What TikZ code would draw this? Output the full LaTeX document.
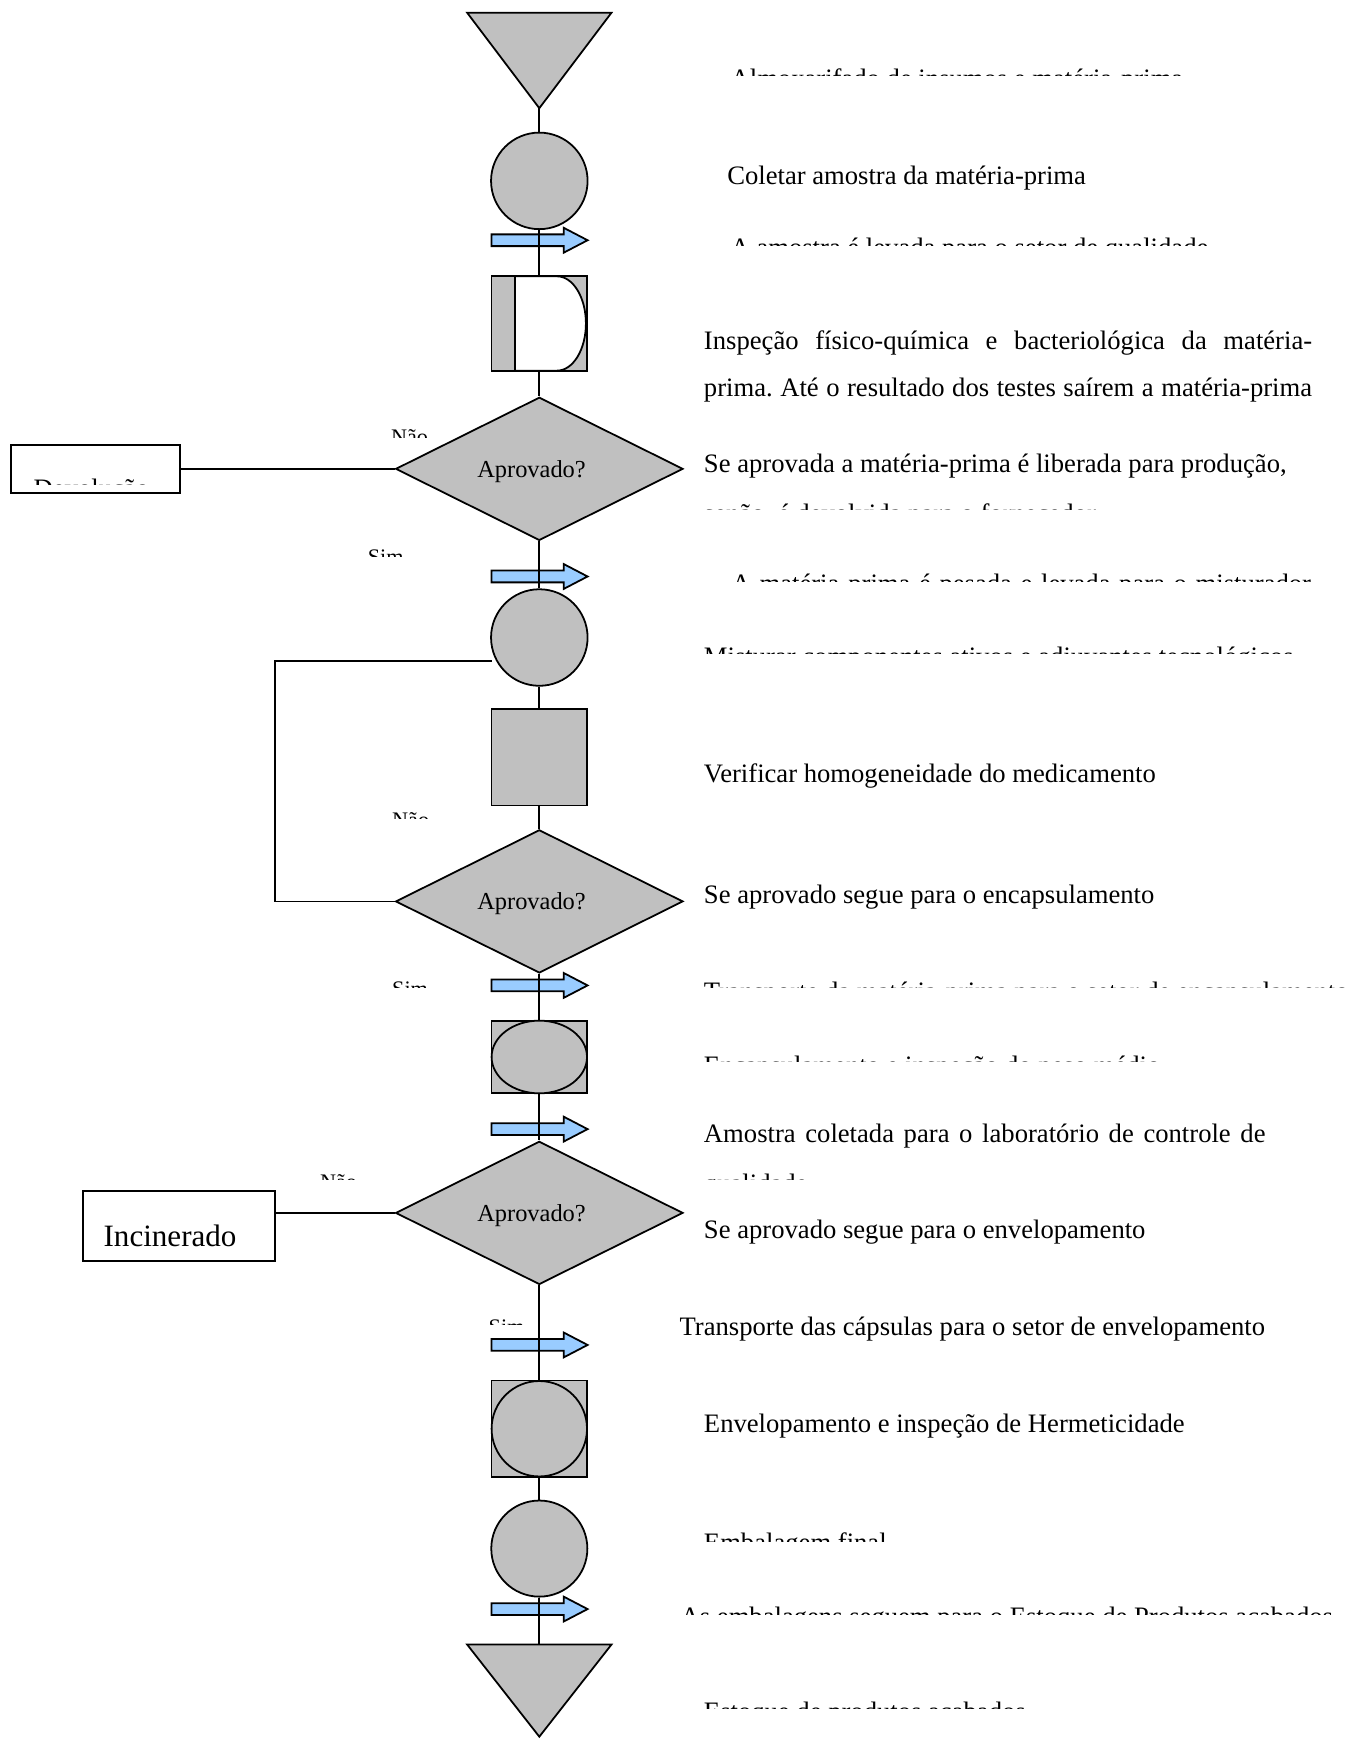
\documentclass[tikz,border=0pt]{standalone}
\usepackage{fontspec}
\setmainfont{Liberation Serif}
\frenchspacing
\usetikzlibrary{positioning, shapes.geometric}

\definecolor{silver}{HTML}{C0C0C0}
\definecolor{skyarrow}{HTML}{99CCFF}

\tikzset{
  proc/.style={draw, fill=silver, line width=0.8pt, inner sep=0pt},
  decis/.style={diamond, draw, fill=silver, line width=0.8pt, aspect=2,
    minimum width=129.5pt, minimum height=64.5pt, inner sep=0pt},
  outbox/.style={draw, fill=white, line width=0.8pt, inner sep=0pt},
  conn/.style={line width=0.8pt},
  txt/.style={anchor=base west, inner sep=0pt, font=\fontsize{12}{14}\selectfont},
  tag/.style={anchor=base west, inner sep=0pt, font=\fontsize{10}{12}\selectfont},
  pics/mover/.style={code={
    \draw[line width=0.8pt, fill=skyarrow] (-43,-5.3) -- (22,-5.3) -- (22,-11.2)
      -- (43.5,0) -- (22,11.2) -- (22,5.3) -- (-43,5.3) -- cycle;}}
}

\begin{document}
\begin{tikzpicture}[x=0.5pt, y=-0.5pt]
\useasboundingbox (0,0) rectangle (1228,1568);

% transport arrows (under the main line)
\pic at (486,216.5) {mover};
\pic at (486,519.5) {mover};
\pic at (486,888) {mover};
\pic at (486,1017.5) {mover};
\pic at (486,1212) {mover};
\pic at (486,1450) {mover};

% storage of raw material
\draw[proc] (421,11.5) -- (551,11.5) -- (486,97.5) -- cycle;
\coordinate (almox) at (486,97.5);

\node[proc, circle, minimum size=43.5pt] (colet) at (486,163) {};

% inspection with waiting
\node[proc, minimum width=43pt, minimum height=42.5pt] (quar) at (486,291.5) {};
\draw[conn, fill=white] (464,249) -- (502,249)
  arc[start angle=90, end angle=-90, x radius=13pt, y radius=21.25pt] -- (464,334) -- cycle;

\node[decis] (ap1) at (486,422.5) {};
\node[outbox, minimum width=76pt, minimum height=21.5pt] (devol) at (86,422.5) {};

\node[proc, circle, minimum size=43.5pt] (mix) at (486,574.5) {};
\node[proc, minimum width=43pt, minimum height=43.4pt] (homog) at (486,682.4) {};
\node[decis] (ap2) at (486,812.3) {};

% encapsulation
\node[proc, minimum width=43pt, minimum height=32.75pt] (encap) at (486,952.5) {};
\node[proc, ellipse, minimum width=43pt, minimum height=32.75pt] at (486,952.5) {};

\node[decis] (ap3) at (486,1093) {};
\node[outbox, minimum width=86.5pt, minimum height=31.8pt] (incin) at (161.5,1104.8) {};
\node[anchor=base west, inner sep=0pt, font=\fontsize{14}{16}\selectfont] (incintxt) at (93,1123) {Incinerado};

% question in each decision
\foreach \d in {ap1, ap2, ap3}
  \node[font=\fontsize{11}{13}\selectfont, inner sep=0pt, xshift=-3.5pt, yshift=-1.2pt] at (\d.center) {Aprovado?};

% envelope
\node[proc, minimum width=43pt, minimum height=43.5pt] (envel) at (486,1287.5) {};
\node[proc, circle, minimum size=43pt] at (486,1287.5) {};

\node[proc, circle, minimum size=43.3pt] (emb) at (486,1395.5) {};

% finished goods
\draw[proc] (421,1482) -- (551,1482) -- (486,1565) -- cycle;
\coordinate (estoq) at (486,1482);

% main line
\draw[conn] (almox) -- (colet.north);
\draw[conn] (colet.south) -- (quar.north);
\draw[conn] (quar.south) -- (ap1.north);
\draw[conn] (ap1.south) -- (mix.north);
\draw[conn] (ap1.west) -- (devol.east);
\draw[conn] (mix.south) -- (homog.north);
\draw[conn] (homog.south) -- (ap2.north);
\coordinate (loopin) at (443,596);
\draw[conn] (ap2.west) -| (248,596) -- (loopin);
\draw[conn] (ap2.south) -- (encap.north);
\draw[conn] (encap.south) -- (ap3.north);
\draw[conn] (ap3.west) -- (ap3.west -| incin.east);
\draw[conn] (ap3.south) -- (envel.north);
\draw[conn] (envel.south) -- (emb.north);
\draw[conn] (emb.south) -- (estoq);

% descriptions
\begin{scope} \clip (640,40) rectangle (1228,68.2);
\node[txt] (t1) at (658,79) {Almoxarifado de insumos e matéria-prima}; \end{scope}
\node[txt] (t2) at (655,166) {Coletar amostra da matéria-prima};
\begin{scope} \clip (640,195) rectangle (1228,221);
\node[txt] (t3) at (658,231.5) {A amostra é levada para o setor de qualidade}; \end{scope}
\node[txt] (t4) at (634,315) {\makebox[274pt][s]{Inspeção físico-química e bacteriológica da matéria-}};
\node[txt] (t5) at (634,357) {\makebox[274pt][s]{prima. Até o resultado dos testes saírem a matéria-prima}};
\node[txt] (t6) at (634,426) {Se aprovada a matéria-prima é liberada para produção,};
\begin{scope} \clip (620,435) rectangle (1228,459.5);
\node[txt] (t7) at (634,470.5) {senão, é devolvida para o fornecedor}; \end{scope}
\begin{scope} \clip (640,498) rectangle (1228,524);
\node[txt] (t8) at (659,533.5) {\makebox[261pt][s]{A matéria-prima é pesada e levada para o misturador}}; \end{scope}
\begin{scope} \clip (620,565) rectangle (1228,588.6);
\node[txt] (t9) at (634,600) {Misturar componentes ativos e adjuvantes tecnológicos}; \end{scope}
\node[txt] (t10) at (634,705) {Verificar homogeneidade do medicamento};
\node[txt] (t11) at (634,814) {Se aprovado segue para o encapsulamento};
\begin{scope} \clip (620,866) rectangle (1228,890.3);
\node[txt] (t12) at (634,901.7) {Transporte da matéria-prima para o setor de encapsulamento}; \end{scope}
\begin{scope} \clip (620,932) rectangle (1228,956.4);
\node[txt] (t13) at (634,968) {Encapsulamento e inspeção do peso médio}; \end{scope}
\node[txt] (t14) at (634,1029.5) {\makebox[253pt][s]{Amostra coletada para o laboratório de controle de}};
\begin{scope} \clip (620,1040) rectangle (1228,1063);
\node[txt] (t15) at (634,1074.4) {qualidade}; \end{scope}
\node[txt] (t16) at (634,1116) {Se aprovado segue para o envelopamento};
\node[txt] (t17) at (612,1203.5) {Transporte das cápsulas para o setor de envelopamento};
\node[txt] (t18) at (634,1290.7) {Envelopamento e inspeção de Hermeticidade};
\begin{scope} \clip (620,1363) rectangle (1228,1389);
\node[txt] (t19) at (634,1398.4) {Embalagem final}; \end{scope}
\begin{scope} \clip (600,1430) rectangle (1228,1455);
\node[txt] (t20) at (613,1465) {As embalagens seguem para o Estoque de Produtos acabados}; \end{scope}
\begin{scope} \clip (620,1515) rectangle (1228,1540);
\node[txt] (t21) at (634,1550.4) {Estoque de produtos acabados}; \end{scope}

% text in the return box
\begin{scope} \clip (12,403) rectangle (160,437);
\node[txt] (devtxt) at (30,448.3) {Devolução}; \end{scope}

% branch tags
\begin{scope} \clip (340,370) rectangle (400,394.6);
\node[tag] (nao1) at (352,400.5) {Não}; \end{scope}
\begin{scope} \clip (320,480) rectangle (380,501.5);
\node[tag] (sim1) at (331,508.7) {Sim}; \end{scope}
\begin{scope} \clip (340,716) rectangle (400,738);
\node[tag] (nao2) at (353,745.7) {Não}; \end{scope}
\begin{scope} \clip (340,868) rectangle (400,889.5);
\node[tag] (sim2) at (353,897.7) {Sim}; \end{scope}
\begin{scope} \clip (275,1042) rectangle (335,1063);
\node[tag] (nao3) at (288,1071.7) {Não}; \end{scope}
\begin{scope} \clip (430,1172) rectangle (480,1193.7);
\node[tag] (sim3) at (440,1202.3) {Sim}; \end{scope}
\end{tikzpicture}
\end{document}
